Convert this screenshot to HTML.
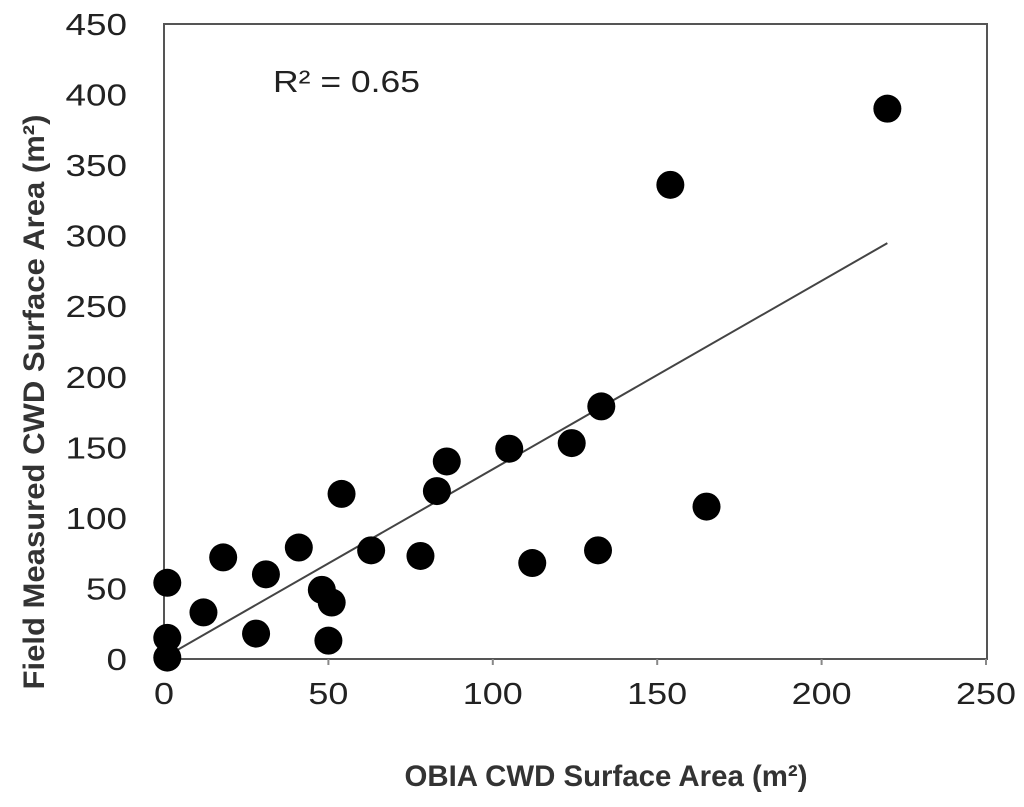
<!DOCTYPE html>
<html><head><meta charset="utf-8"><style>
body{margin:0;background:#fff;}
text{font-family:"Liberation Sans",sans-serif;}
</style></head><body>
<svg id="chart" width="1024" height="802">
</svg>
<script>
const xValues=[1,1,1,12,18,28,31,41,48,51,50,54,63,78,83,86,105,112,124,133,132,154,165,220];
const yValues=[1,15,54,33,72,18,60,79,49,40,13,117,77,73,119,140,149,68,153,179,77,336,108,390];
const xTicks=[0,50,100,150,200,250];
const yTicks=[0,50,100,150,200,250,300,350,400,450];
const trendSlope=1.335, trendIntercept=1, trendXMax=220;
const L=164,R=986,T=24,B=659;
const sx=v=>L+v/250*(R-L), sy=v=>B-v/450*(B-T);
const svg=document.getElementById('chart');
const NS='http://www.w3.org/2000/svg';
function mk(tag,attrs,txt){const e=document.createElementNS(NS,tag);for(const k in attrs)e.setAttribute(k,attrs[k]);if(txt!==undefined)e.textContent=txt;svg.appendChild(e);return e;}
let f=mk('rect',{x:L,y:T,width:R-L+1,height:B-T,fill:'none',stroke:'#555','stroke-width':2});


xTicks.forEach(t=>{
 let l=mk('line',{x1:sx(t),x2:sx(t),y1:B,y2:B+6,stroke:'#888','stroke-width':2});
 
 
 let tx=mk('text',{x:sx(t),y:B+45,'text-anchor':'middle','font-size':31,fill:'#222',textLength:String(t).length*20,lengthAdjust:'spacingAndGlyphs'},t);
 
 
});
yTicks.forEach(t=>{
 let tx=mk('text',{x:127,y:sy(t)+11,'text-anchor':'end','font-size':31,fill:'#222',textLength:String(t).length*20.5,lengthAdjust:'spacingAndGlyphs'},t);
 
 
});
let tl=mk('line',{x1:sx(0),y1:sy(trendIntercept),x2:sx(trendXMax),y2:sy(trendIntercept+trendSlope*trendXMax),stroke:'#444','stroke-width':2});


xValues.forEach((x,i)=>{
 let c=mk('circle',{cx:sx(x),cy:sy(yValues[i]),r:14,fill:'#000'});
 
 
});
let r2=mk('text',{x:273,y:92,'font-size':31,fill:'#222',textLength:147,lengthAdjust:'spacingAndGlyphs'},'R² = 0.65');


let xt=mk('text',{x:606,y:786,'text-anchor':'middle','font-size':30,'font-weight':'bold',fill:'#333',textLength:403,lengthAdjust:'spacingAndGlyphs'},'OBIA CWD Surface Area (m²)');


let yt=mk('text',{x:0,y:0,'text-anchor':'middle','font-size':30,'font-weight':'bold',fill:'#333',textLength:575,lengthAdjust:'spacingAndGlyphs',transform:'translate(44,402) rotate(-90)'},'Field Measured CWD Surface Area (m²)');


</script>
</body></html>
